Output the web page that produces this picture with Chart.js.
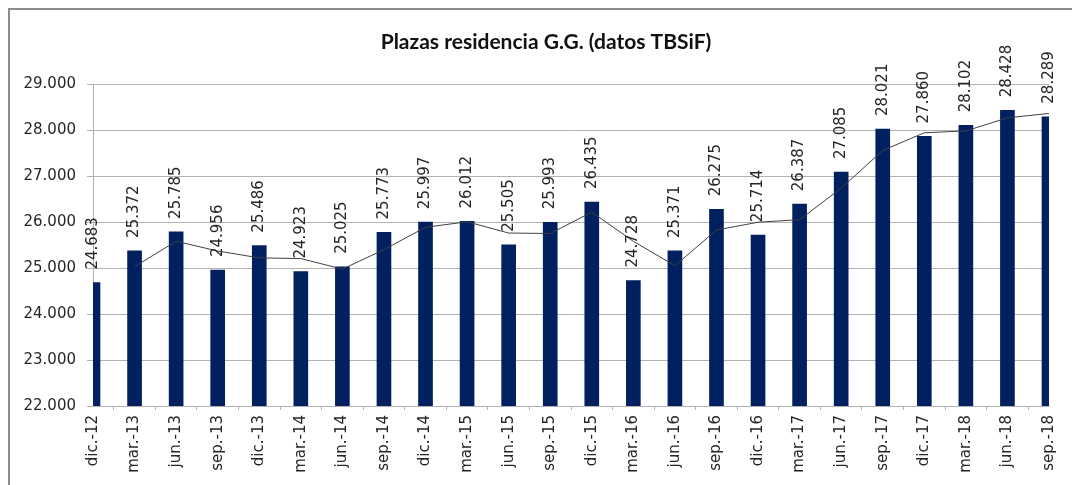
<!DOCTYPE html>
<html lang="es">
<head>
<meta charset="UTF-8">
<title>Plazas residencia G.G.</title>
<script src="https://cdn.jsdelivr.net/npm/chart.js@4"></script>
<style>
  * { box-sizing: border-box; margin: 0; padding: 0; }
  html, body { width: 1072px; height: 485px; overflow: hidden; background: #fff; }
  .frame { position: absolute; left: 8px; top: 8px; width: 1100px; height: 520px; border: 2px solid #8c8c8c; }
  #wrap { position: absolute; left: 0; top: 0; width: 1072px; height: 485px; }
</style>
</head>
<body>
<div class="frame"></div>
<div id="wrap"><canvas id="chart"></canvas></div>
<script>
// ---------- Data ----------
const labels = ['dic.-12', 'mar.-13', 'jun.-13', 'sep.-13', 'dic.-13', 'mar.-14', 'jun.-14', 'sep.-14',
  'dic.-14', 'mar.-15', 'jun.-15', 'sep.-15', 'dic.-15', 'mar.-16', 'jun.-16', 'sep.-16',
  'dic.-16', 'mar.-17', 'jun.-17', 'sep.-17', 'dic.-17', 'mar.-18', 'jun.-18', 'sep.-18'];

const plazas = [24683, 25372, 25785, 24956, 25486, 24923, 25025, 25773,
  25997, 26012, 25505, 25993, 26435, 24728, 25371, 26275,
  25714, 26387, 27085, 28021, 27860, 28102, 28428, 28289];

// trend line (starts at the second period)
const tendencia = [null, 25030, 25580, 25370, 25220, 25205, 24975, 25400,
  25885, 26005, 25760, 25750, 26215, 25580, 25050, 25825,
  25995, 26050, 26735, 27555, 27940, 27980, 28265, 28360];

const yMin = 22000, yMax = 29000, yStep = 1000;
const TITLE = 'Plazas residencia G.G. (datos TBSiF)';

// ---------- Helpers ----------
function fmt(v) { return String(Math.round(v)).replace(/\B(?=(\d{3})+(?!\d))/g, '.'); }

const FONT = 'DejaVu Sans';
const TEXT = '#262626';
const GRID = '#b2b2b2';

// rotated value labels above each bar + the title
const extras = {
  id: 'extras',
  afterDatasetsDraw(chart) {
    const meta = chart.getDatasetMeta(1);
    const ctx = chart.ctx;
    ctx.save();
    ctx.font = '15px "' + FONT + '"';
    ctx.fillStyle = TEXT;
    ctx.textAlign = 'left';
    ctx.textBaseline = 'middle';
    meta.data.forEach((el, i) => {
      ctx.save();
      ctx.translate(el.x, el.y - 13);
      ctx.rotate(-Math.PI / 2);
      ctx.fillText(fmt(plazas[i]), 0, 0);
      ctx.restore();
    });
    ctx.font = 'bold 21px Lato';
    ctx.fillStyle = '#111';
    ctx.textAlign = 'center';
    ctx.textBaseline = 'alphabetic';
    ctx.fillText(TITLE, 546, 49);
    ctx.restore();
  }
};

new Chart(document.getElementById('chart'), {
  type: 'bar',
  data: {
    labels,
    datasets: [
      {
        type: 'line',
        label: 'tendencia',
        data: tendencia,
        borderColor: '#404040',
        borderWidth: 1,
        pointRadius: 0,
        tension: 0,
        order: 0,
      },
      {
        label: 'Plazas',
        data: plazas,
        backgroundColor: '#002060',
        barThickness: 14,
        clip: 0,
        order: 1,
      },
    ],
  },
  options: {
    responsive: true,
    maintainAspectRatio: false,
    animation: false,
    layout: { padding: { left: 8, right: 12, top: 84, bottom: 0 } },
    plugins: {
      legend: { display: false },
      tooltip: { enabled: false },
      title: { display: false },
    },
    scales: {
      x: {
        offset: false,
        grid: { drawOnChartArea: false, drawTicks: true, tickLength: 4, color: GRID },
        border: { display: true, color: GRID },
        ticks: {
          color: TEXT, font: { family: FONT, size: 15 },
          minRotation: 90, maxRotation: 90, padding: 5, autoSkip: false,
        },
        afterFit(scale) { scale.height = 79; },
      },
      y: {
        min: yMin, max: yMax,
        grid: { color: GRID, tickLength: 6 },
        border: { display: true, color: GRID },
        ticks: {
          stepSize: yStep, color: TEXT, font: { family: FONT, size: 15 }, padding: 11,
          callback: v => fmt(v),
        },
        afterFit(scale) { scale.width = 85; },
      },
    },
  },
  plugins: [extras],
});
</script>
</body>
</html>
